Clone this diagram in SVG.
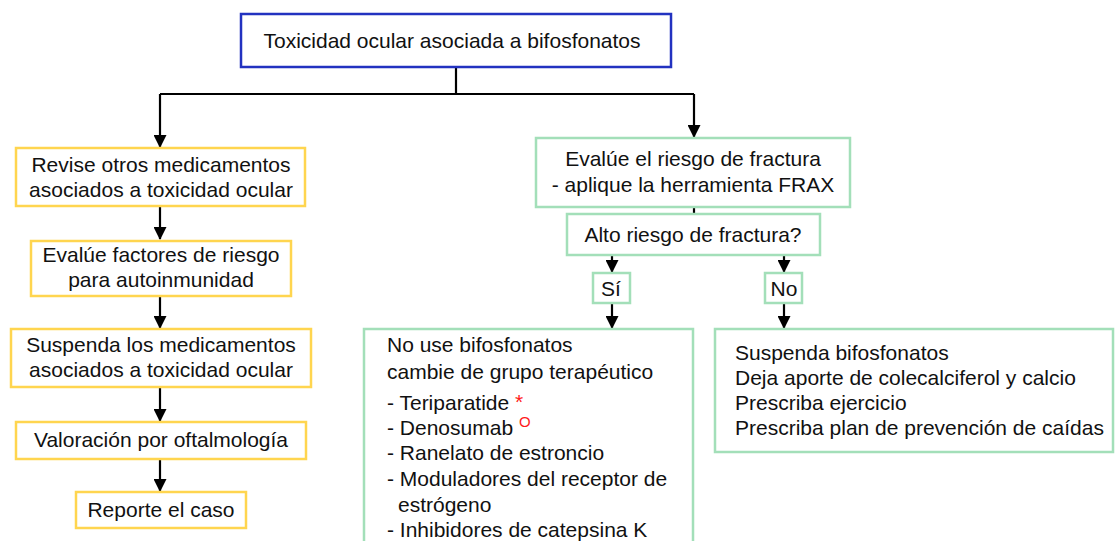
<svg xmlns="http://www.w3.org/2000/svg" width="1116" height="541" viewBox="0 0 1116 541">
<style>
text{font-family:"Liberation Sans",Arial,sans-serif;font-size:21px;fill:#111}
.c{text-anchor:middle}
.blue{fill:#fff;stroke:#2232c0;stroke-width:2.5}
.yel{fill:#fff;stroke:#ffd54f;stroke-width:2.5}
.grn{fill:#fff;stroke:#a3dfb9;stroke-width:2.5}
.ln{fill:none;stroke:#000;stroke-width:2.2}
.red{fill:#ff1a1a}
</style>
<defs>
<marker id="ah" viewBox="0 0 13 13" refX="12" refY="6.5" markerWidth="13" markerHeight="13" markerUnits="userSpaceOnUse" orient="auto">
<path d="M0,0 L13,6.5 L0,13 Z" fill="#000"/>
</marker>
</defs>
<g id="connectors">
<path class="ln" d="M456,67 V94 M160,94 H694"/>
<path class="ln" d="M160,94 V147" marker-end="url(#ah)"/>
<path class="ln" d="M694,94 V137" marker-end="url(#ah)"/>
<path class="ln" d="M160,206 V239" marker-end="url(#ah)"/>
<path class="ln" d="M160,296 V328" marker-end="url(#ah)"/>
<path class="ln" d="M160,387 V421" marker-end="url(#ah)"/>
<path class="ln" d="M160,459 V491" marker-end="url(#ah)"/>
<path class="ln" d="M694,207 V214"/>
<path class="ln" d="M612,255 V272" marker-end="url(#ah)"/>
<path class="ln" d="M784,255 V272" marker-end="url(#ah)"/>
<path class="ln" d="M612,303 V328" marker-end="url(#ah)"/>
<path class="ln" d="M784,303 V328" marker-end="url(#ah)"/>
</g>
<g id="n-top">
<rect class="blue" x="241" y="14" width="430" height="53"/>
<text class="c" x="452" y="48" font-size="20.5">Toxicidad ocular asociada a bifosfonatos</text>
</g>
<g id="n-revise">
<rect class="yel" x="16" y="148" width="289" height="58"/>
<text class="c" x="161" y="172">Revise otros medicamentos</text>
<text class="c" x="161" y="197">asociados a toxicidad ocular</text>
</g>
<g id="n-evalue-fact">
<rect class="yel" x="31" y="241" width="260" height="55"/>
<text class="c" x="161" y="262">Evalúe factores de riesgo</text>
<text class="c" x="161" y="287">para autoinmunidad</text>
</g>
<g id="n-suspenda">
<rect class="yel" x="11" y="329" width="300" height="58"/>
<text class="c" x="161" y="352">Suspenda los medicamentos</text>
<text class="c" x="161" y="377">asociados a toxicidad ocular</text>
</g>
<g id="n-valoracion">
<rect class="yel" x="16" y="422" width="290" height="37"/>
<text class="c" x="161" y="447">Valoración por oftalmología</text>
</g>
<g id="n-reporte">
<rect class="yel" x="76" y="492" width="170" height="36"/>
<text class="c" x="161" y="517">Reporte el caso</text>
</g>
<g id="n-evalue-riesgo">
<rect class="grn" x="536" y="138" width="314" height="69"/>
<text class="c" x="693" y="166">Evalúe el riesgo de fractura</text>
<text class="c" x="693" y="192">- aplique la herramienta FRAX</text>
</g>
<g id="n-alto">
<rect class="grn" x="567" y="214" width="253" height="41"/>
<text class="c" x="693" y="242">Alto riesgo de fractura?</text>
</g>
<g id="n-si">
<rect class="grn" x="593" y="273" width="37" height="30"/>
<text class="c" x="611" y="296">Sí</text>
</g>
<g id="n-no">
<rect class="grn" x="765" y="273" width="37" height="30"/>
<text class="c" x="784" y="296">No</text>
</g>
<g id="n-nouse">
<rect class="grn" x="364" y="329" width="329" height="240"/>
<text x="387" y="352">No use bifosfonatos</text>
<text x="387" y="379">cambie de grupo terapéutico</text>
<text x="387" y="410">- Teriparatide <tspan class="red" font-size="21" dy="-1">*</tspan></text>
<text x="387" y="435">- Denosumab <tspan class="red" font-size="15" dy="-8">O</tspan></text>
<text x="387" y="460">- Ranelato de estroncio</text>
<text x="387" y="486">- Moduladores del receptor de</text>
<text x="398" y="512">estrógeno</text>
<text x="387" y="537">- Inhibidores de catepsina K</text>
</g>
<g id="n-suspbif">
<rect class="grn" x="715" y="329" width="398" height="123"/>
<text x="735" y="360">Suspenda bifosfonatos</text>
<text x="735" y="385">Deja aporte de colecalciferol y calcio</text>
<text x="735" y="410">Prescriba ejercicio</text>
<text x="735" y="435">Prescriba plan de prevención de caídas</text>
</g>
</svg>
